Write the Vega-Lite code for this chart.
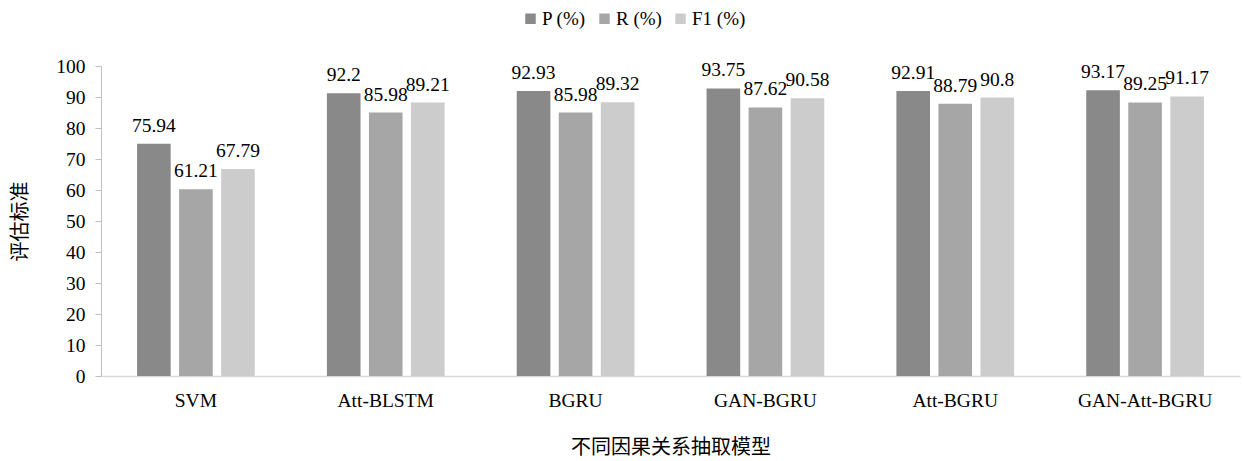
{
  "$schema": "https://vega.github.io/schema/vega-lite/v6.json",
  "width": 1139,
  "height": 310,
  "autosize": {"type": "none"},
  "padding": {"left": 101, "top": 66, "right": 4, "bottom": 85},
  "background": "white",
  "config": {
    "font": "Liberation Serif, Noto Sans CJK SC",
    "view": {"stroke": null}
  },
  "data": {
    "values": [
      {"model": "SVM", "metric": "P (%)", "value": 75.94, "bar": 74.94},
      {"model": "SVM", "metric": "R (%)", "value": 61.21, "bar": 60.21},
      {"model": "SVM", "metric": "F1 (%)", "value": 67.79, "bar": 66.79},
      {"model": "Att-BLSTM", "metric": "P (%)", "value": 92.2, "bar": 91.2},
      {"model": "Att-BLSTM", "metric": "R (%)", "value": 85.98, "bar": 84.98},
      {"model": "Att-BLSTM", "metric": "F1 (%)", "value": 89.21, "bar": 88.21},
      {"model": "BGRU", "metric": "P (%)", "value": 92.93, "bar": 91.93},
      {"model": "BGRU", "metric": "R (%)", "value": 85.98, "bar": 84.98},
      {"model": "BGRU", "metric": "F1 (%)", "value": 89.32, "bar": 88.32},
      {"model": "GAN-BGRU", "metric": "P (%)", "value": 93.75, "bar": 92.75},
      {"model": "GAN-BGRU", "metric": "R (%)", "value": 87.62, "bar": 86.62},
      {"model": "GAN-BGRU", "metric": "F1 (%)", "value": 90.58, "bar": 89.58},
      {"model": "Att-BGRU", "metric": "P (%)", "value": 92.91, "bar": 91.91},
      {"model": "Att-BGRU", "metric": "R (%)", "value": 88.79, "bar": 87.79},
      {"model": "Att-BGRU", "metric": "F1 (%)", "value": 90.8, "bar": 89.8},
      {"model": "GAN-Att-BGRU", "metric": "P (%)", "value": 93.17, "bar": 92.17},
      {"model": "GAN-Att-BGRU", "metric": "R (%)", "value": 89.25, "bar": 88.25},
      {"model": "GAN-Att-BGRU", "metric": "F1 (%)", "value": 91.17, "bar": 90.17}
    ]
  },
  "encoding": {
    "x": {
      "field": "model",
      "type": "nominal",
      "sort": null,
      "scale": {"paddingInner": 0.38, "paddingOuter": 0.19},
      "axis": {
        "title": "不同因果关系抽取模型",
        "titleFont": "Noto Sans CJK SC",
        "titleFontSize": 20,
        "titleFontWeight": "normal",
        "titleColor": "#000000",
        "titlePadding": 28,
        "labelAngle": 0,
        "labelFontSize": 19.5,
        "labelColor": "#000000",
        "labelPadding": 15,
        "ticks": false,
        "domainColor": "#d9d9d9",
        "domainWidth": 1.5,
        "grid": false
      }
    },
    "xOffset": {
      "field": "metric",
      "type": "nominal",
      "sort": ["P (%)", "R (%)", "F1 (%)"],
      "scale": {"paddingInner": 0.2, "paddingOuter": 0}
    },
    "y": {
      "field": "bar",
      "type": "quantitative",
      "scale": {"domain": [0, 100], "nice": false},
      "axis": {
        "title": "评估标准",
        "titleFont": "Noto Sans CJK SC",
        "titleFontSize": 20,
        "titleFontWeight": "normal",
        "titleColor": "#000000",
        "titlePadding": 25,
        "values": [0, 10, 20, 30, 40, 50, 60, 70, 80, 90, 100],
        "labelOverlap": false,
        "labelFontSize": 19.5,
        "labelColor": "#000000",
        "labelPadding": 10,
        "tickSize": 6,
        "tickColor": "#bfbfbf",
        "domainColor": "#bfbfbf",
        "grid": false
      }
    }
  },
  "layer": [
    {
      "mark": {"type": "bar"},
      "encoding": {
        "color": {
          "field": "metric",
          "type": "nominal",
          "sort": ["P (%)", "R (%)", "F1 (%)"],
          "scale": {
            "domain": ["P (%)", "R (%)", "F1 (%)"],
            "range": ["#898989", "#a6a6a6", "#cccccc"]
          },
          "legend": {
            "title": null,
            "orient": "none",
            "direction": "horizontal",
            "legendX": 420,
            "legendY": -57,
            "symbolType": "square",
            "symbolSize": 110,
            "symbolStrokeWidth": 0,
            "labelFontSize": 19,
            "labelColor": "#000000",
            "labelOffset": 2,
            "columnPadding": 9
          }
        }
      }
    },
    {
      "mark": {"type": "text", "fontSize": 19.5, "color": "#000000", "baseline": "alphabetic", "dy": -12},
      "encoding": {
        "text": {"field": "value", "type": "quantitative", "format": ".4~f"}
      }
    }
  ]
}
